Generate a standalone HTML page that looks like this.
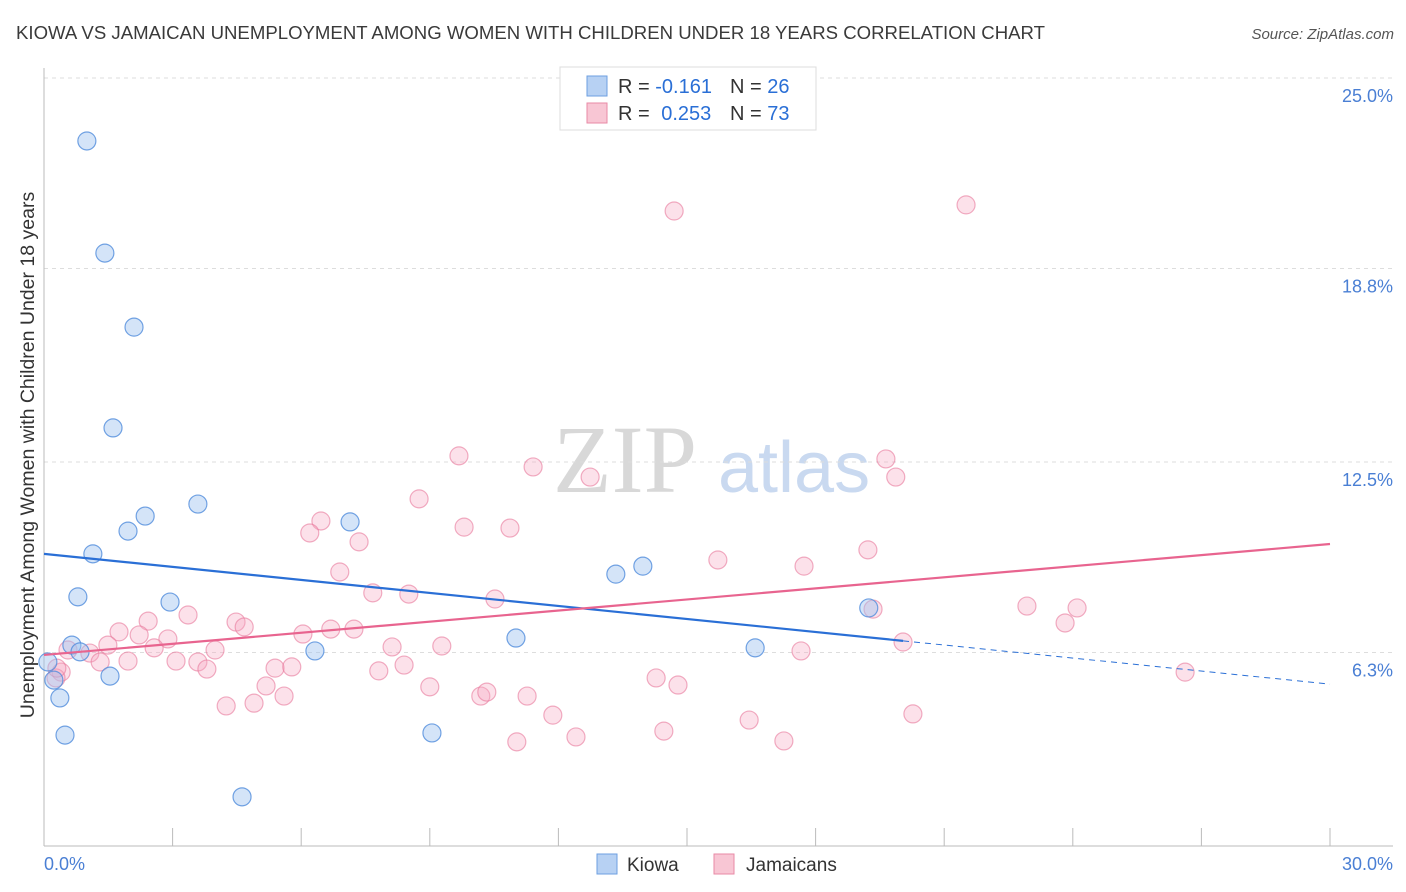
<!DOCTYPE html>
<html><head><meta charset="utf-8"><style>
body{margin:0;background:#fff;font-family:"Liberation Sans",sans-serif;}
#c{position:absolute;left:0;top:0;}
</style></head><body>
<svg id="c" width="1406" height="892" xmlns="http://www.w3.org/2000/svg" font-family="Liberation Sans, sans-serif">
<text x="16" y="39" font-size="18.6" fill="#3a3a3a">KIOWA VS JAMAICAN UNEMPLOYMENT AMONG WOMEN WITH CHILDREN UNDER 18 YEARS CORRELATION CHART</text>
<text x="1394" y="39" font-size="15" fill="#555" font-style="italic" text-anchor="end">Source: ZipAtlas.com</text>
<g>
<text x="553" y="492" font-size="96" fill="#d8d8d8" font-family="Liberation Serif, serif">ZIP</text>
<text x="718" y="492" font-size="72" fill="#c9d9f0">atlas</text>
</g>
<g id="grid"></g>
<g id="axes"></g>
<g id="pts"></g>
<g id="lines"></g>
<text transform="translate(34,455) rotate(-90)" font-size="19.5" fill="#333" text-anchor="middle">Unemployment Among Women with Children Under 18 years</text>
<text x="44" y="870" font-size="18" fill="#4a7fd4">0.0%</text>
<text x="1393" y="870" font-size="18" fill="#4a7fd4" text-anchor="end">30.0%</text>
<g>
<rect x="560" y="67" width="256" height="63" fill="#fff" stroke="#ddd"/>
<rect x="587" y="76" width="20" height="20" fill="#b7d1f3" stroke="#6e9fe0"/>
<rect x="587" y="103" width="20" height="20" fill="#f8c6d4" stroke="#e88aa6"/>
<text x="618" y="93" font-size="20" fill="#333">R = <tspan fill="#2a6fd6">-0.161</tspan></text>
<text x="730" y="93" font-size="20" fill="#333">N = <tspan fill="#2a6fd6">26</tspan></text>
<text x="618" y="120" font-size="20" fill="#333">R = <tspan fill="#2a6fd6" dx="6">0.253</tspan></text>
<text x="730" y="120" font-size="20" fill="#333">N = <tspan fill="#2a6fd6">73</tspan></text>
</g>
<g>
<rect x="597" y="854" width="20" height="20" fill="#b7d1f3" stroke="#6e9fe0"/>
<text x="627" y="871" font-size="19" fill="#333">Kiowa</text>
<rect x="714" y="854" width="20" height="20" fill="#f8c6d4" stroke="#e88aa6"/>
<text x="746" y="871" font-size="19" fill="#333">Jamaicans</text>
</g>
</svg>
<script>
const yTicks=[25,18.8,12.5,6.3];
const yTickLabels=["25.0%","18.8%","12.5%","6.3%"];
const kiowaX=[1.00,1.42,2.10,1.61,2.36,1.96,3.59,1.14,0.79,2.94,0.65,0.84,1.54,0.23,0.37,0.49,4.62,6.32,7.14,9.05,11.01,13.34,13.97,16.59,19.24,0.09];
const kiowaY=[22.95,19.30,16.89,13.61,10.74,10.25,11.13,9.51,8.11,7.94,6.54,6.32,5.53,5.40,4.82,3.61,1.60,6.35,10.55,3.68,6.77,8.85,9.11,6.45,7.75,5.99];
const jamX=[14.70,21.51,9.68,11.41,12.74,19.64,19.87,8.75,9.80,10.87,6.46,6.20,7.35,6.90,19.22,15.72,17.73,7.67,8.51,10.52,3.36,2.43,4.48,4.67,6.04,6.69,7.23,1.75,2.22,2.89,1.49,2.57,3.99,8.12,9.28,20.04,17.66,19.34,22.93,24.10,23.82,26.62,0.56,1.07,1.31,1.96,3.08,3.59,3.80,5.39,5.78,7.81,8.40,0.40,0.28,5.18,5.60,9.00,10.19,10.33,11.27,14.28,14.79,4.25,4.90,11.87,20.27,16.45,14.46,12.41,11.03,17.26,0.30];
const jamY=[20.67,20.87,12.70,12.34,12.01,12.60,12.01,11.30,10.38,10.35,10.58,10.19,9.90,8.92,9.64,9.31,9.11,8.24,8.20,8.04,7.52,7.32,7.29,7.13,6.90,7.06,7.06,6.97,6.87,6.74,6.54,6.45,6.38,6.48,6.51,6.64,6.35,7.71,7.81,7.75,7.26,5.66,6.38,6.28,5.99,6.02,6.02,5.99,5.76,5.79,5.83,5.70,5.89,5.66,5.47,5.21,4.88,5.18,4.88,5.01,4.88,5.47,5.24,4.56,4.65,4.26,4.30,4.10,3.74,3.55,3.39,3.42,5.79];
const kiowaTrend=[9.51,5.27];
const kiowaSolidEnd=20.04;
const jamTrend=[6.22,9.83];
const NS="http://www.w3.org/2000/svg";
const sx=v=>44+v*(1286/30);
const sy=v=>846-v*30.72;
function mk(tag,attrs,parent){const e=document.createElementNS(NS,tag);for(const k in attrs)e.setAttribute(k,attrs[k]);parent.appendChild(e);return e;}
const grid=document.getElementById('grid'),axes=document.getElementById('axes'),pts=document.getElementById('pts'),lines=document.getElementById('lines');
yTicks.forEach((t,i)=>{
 const l=mk('line',{x1:44,x2:1393,y1:sy(t),y2:sy(t),stroke:'#ddd','stroke-dasharray':'4,4'},grid);
 
 
 const tx=mk('text',{x:1393,y:sy(t)+24,'font-size':18,fill:'#4a7fd4','text-anchor':'end'},grid);
 tx.textContent=yTickLabels[i];
 
 
});
let a=mk('line',{x1:44,x2:44,y1:68,y2:846,stroke:'#bbb'},axes);


a=mk('line',{x1:44,x2:1393,y1:846,y2:846,stroke:'#bbb'},axes);


for(let i=1;i<=10;i++){
 const t=mk('line',{x1:sx(i*3),x2:sx(i*3),y1:828,y2:846,stroke:'#bbb'},axes);
 
 
}
jamX.forEach((x,i)=>{
 const c=mk('circle',{cx:sx(x),cy:sy(jamY[i]),r:9,fill:'rgba(245,170,195,0.35)',stroke:'rgba(232,120,155,0.6)','stroke-width':1.2},pts);
 
 
});
kiowaX.forEach((x,i)=>{
 const c=mk('circle',{cx:sx(x),cy:sy(kiowaY[i]),r:9,fill:'rgba(160,195,240,0.45)',stroke:'rgba(80,140,220,0.8)','stroke-width':1.2},pts);
 
 
});
const ky=x=>kiowaTrend[0]+(kiowaTrend[1]-kiowaTrend[0])*x/30;
let ln=mk('line',{x1:sx(0),y1:sy(ky(0)),x2:sx(kiowaSolidEnd),y2:sy(ky(kiowaSolidEnd)),stroke:'#2a6fd6','stroke-width':2.2},lines);


ln=mk('line',{x1:sx(kiowaSolidEnd),y1:sy(ky(kiowaSolidEnd)),x2:sx(30),y2:sy(ky(30)),stroke:'#2a6fd6','stroke-width':1,'stroke-dasharray':'6,5'},lines);


ln=mk('line',{x1:sx(0),y1:sy(jamTrend[0]),x2:sx(30),y2:sy(jamTrend[1]),stroke:'#e8648f','stroke-width':2.2},lines);


</script>
</body></html>
